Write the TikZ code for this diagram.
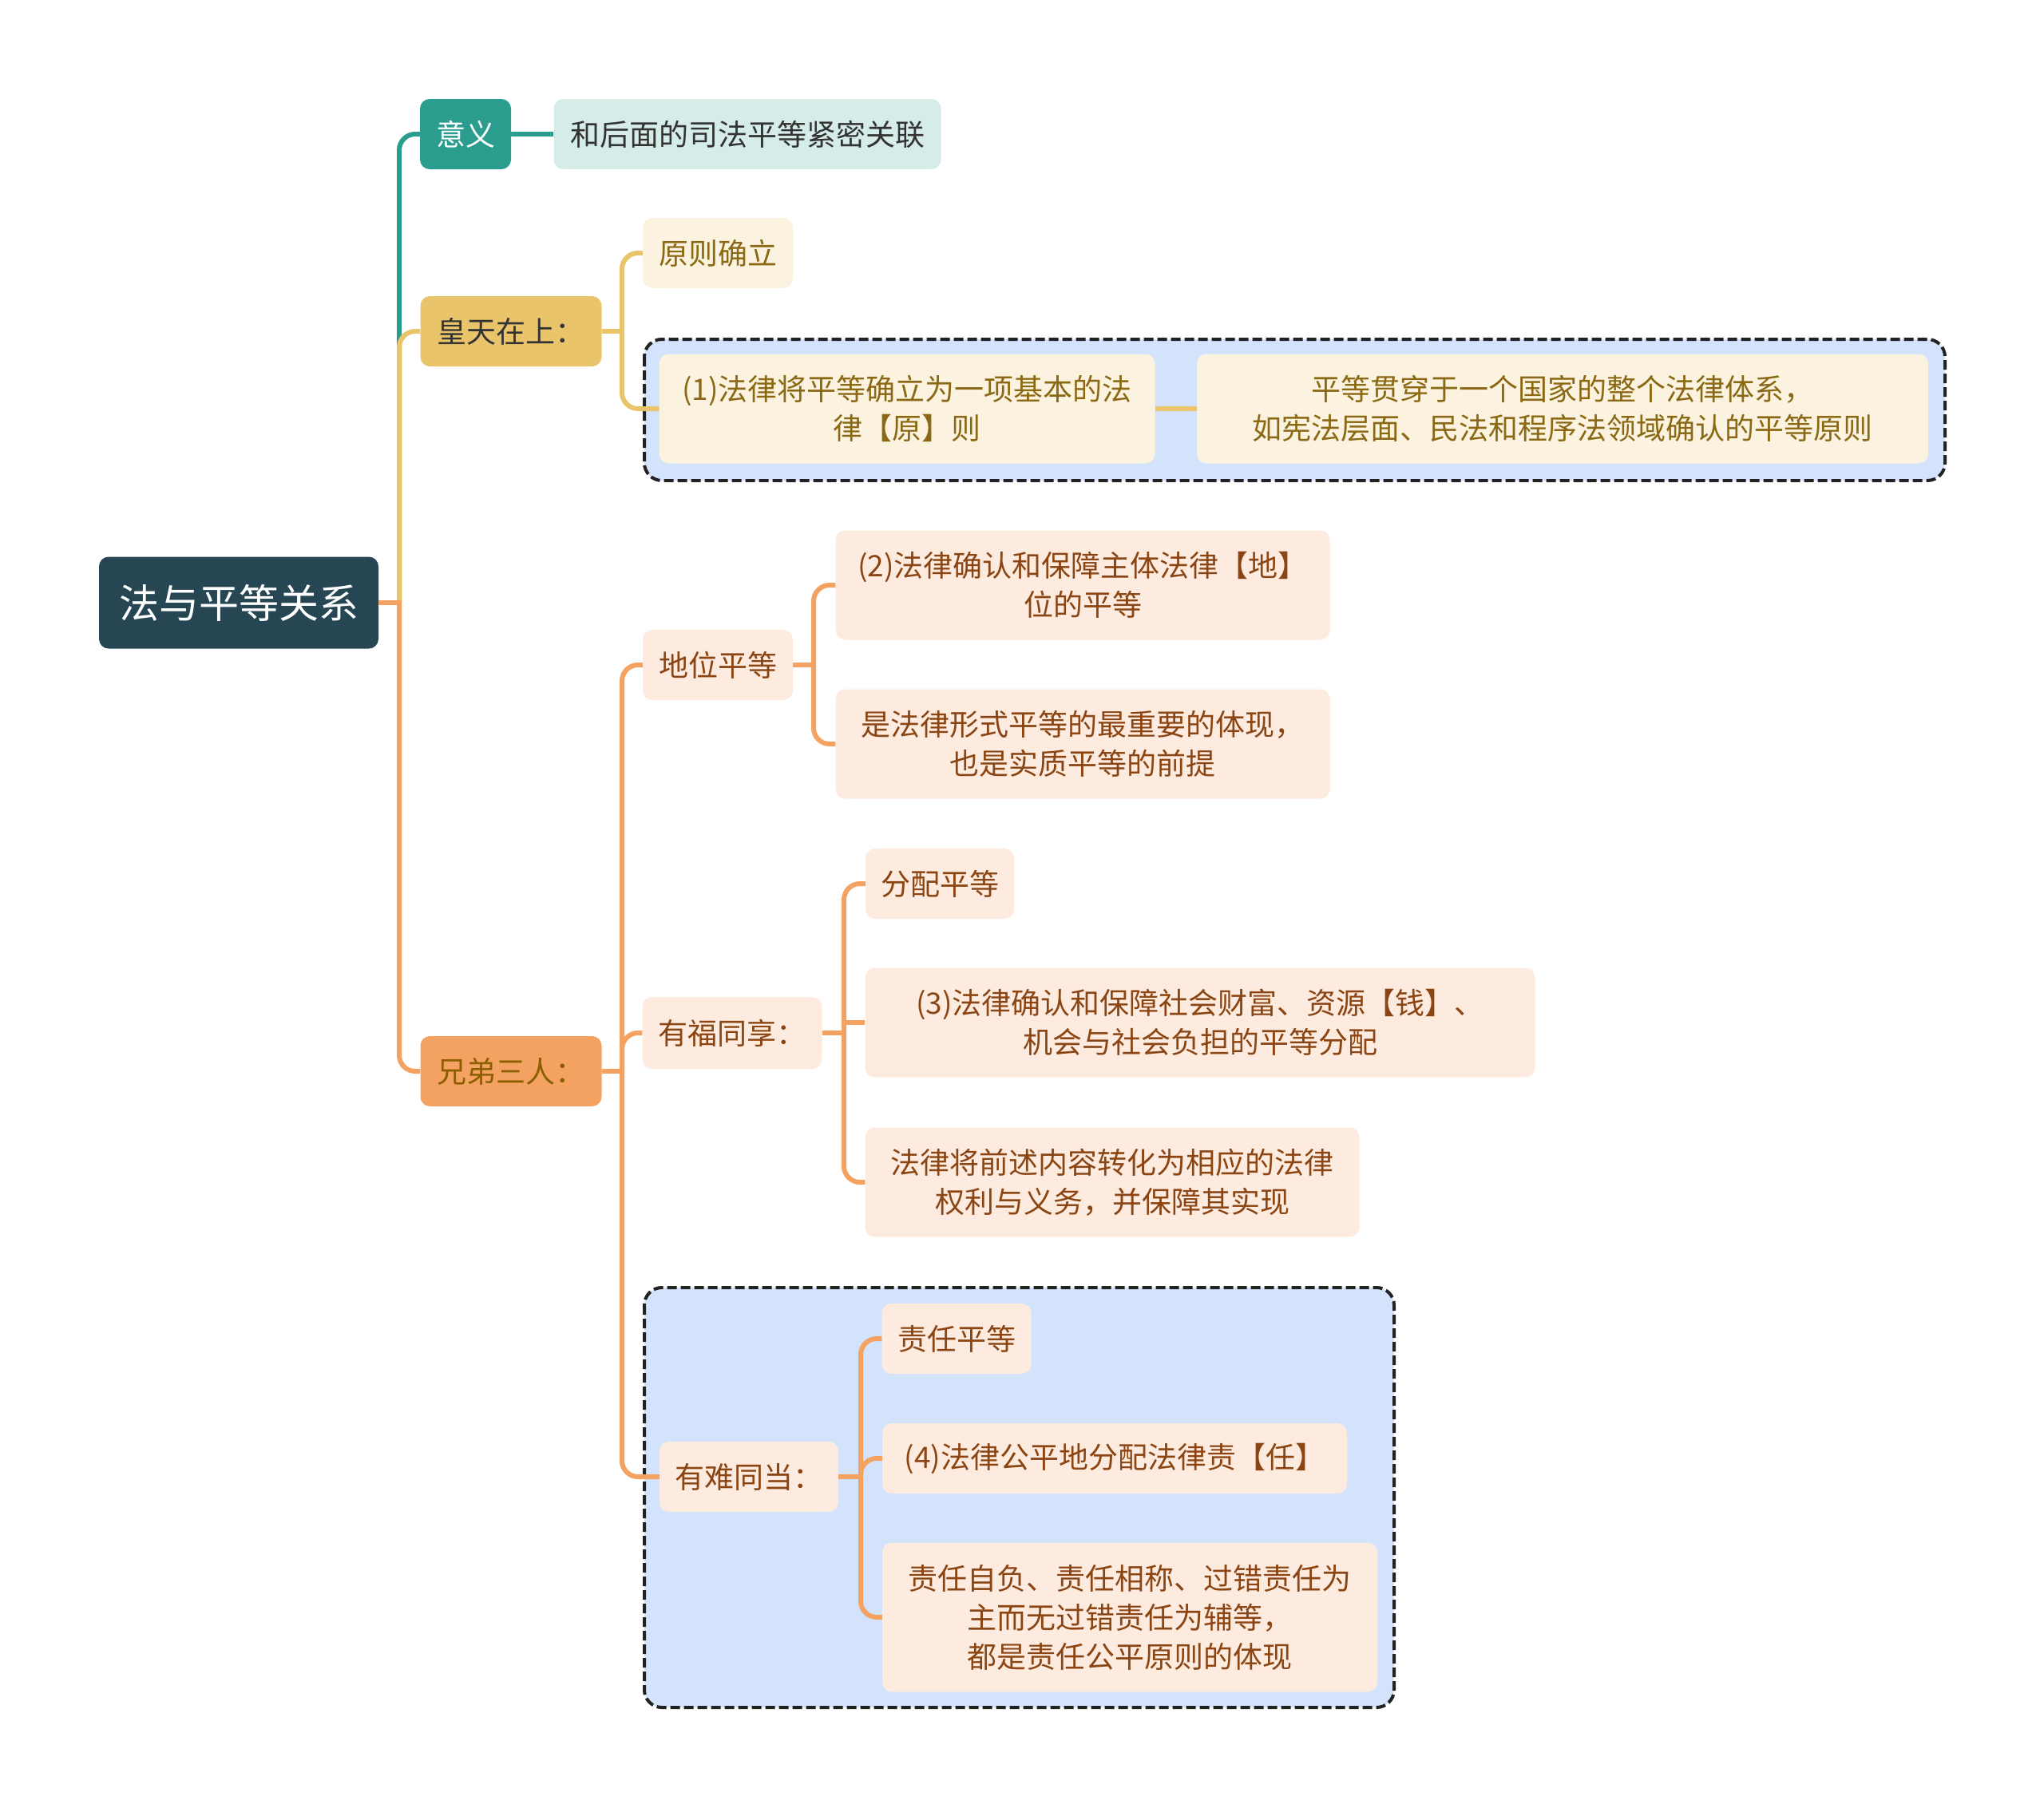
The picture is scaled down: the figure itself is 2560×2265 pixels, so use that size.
\documentclass[tikz,border=0pt]{standalone}
\usepackage{fontspec}
\setmainfont{Noto Sans CJK SC}
\definecolor{rootblue}{HTML}{264653}
\definecolor{tealmain}{HTML}{2A9D8F}
\definecolor{teallight}{HTML}{D5ECE9}
\definecolor{goldmain}{HTML}{E9C46A}
\definecolor{goldlight}{HTML}{FBF3E0}
\definecolor{goldtext}{HTML}{8B6914}
\definecolor{orangemain}{HTML}{F4A261}
\definecolor{orangelight}{HTML}{FDEBE0}
\definecolor{orangetext}{HTML}{8B5E00}
\definecolor{browntext}{HTML}{8B4513}
\definecolor{groupblue}{HTML}{D3E3FC}
\definecolor{groupline}{HTML}{222222}
\definecolor{darktext}{HTML}{333333}

\begin{document}
\begin{tikzpicture}[x=1pt,y=-1pt,
  box/.style={rounded corners=12pt, inner sep=0pt, align=center, font=\fontsize{37}{49}\selectfont},
  sz/.style 2 args={minimum width=#1, minimum height=#2},
  rootnode/.style={box, fill=rootblue, text=white, font=\fontsize{50}{60}\selectfont},
  tealnode/.style={box, fill=tealmain, text=white},
  tealleaf/.style={box, fill=teallight, text=darktext},
  goldnode/.style={box, fill=goldmain, text=darktext},
  goldleaf/.style={box, fill=goldlight, text=goldtext},
  orangenode/.style={box, fill=orangemain, text=orangetext},
  orangeleaf/.style={box, fill=orangelight, text=browntext},
  groupbox/.style={fill=groupblue, draw=groupline, line width=4pt, dash pattern=on 12pt off 5pt, rounded corners=22pt},
  tealline/.style={draw=tealmain, line width=6pt, rounded corners=20pt},
  goldline/.style={draw=goldmain, line width=6pt, rounded corners=20pt},
  orangeline/.style={draw=orangemain, line width=6pt, rounded corners=20pt},
  stub/.style={line cap=rect, sharp corners}]

  \useasboundingbox (0,0) rectangle (2560,2265);

  % Group boxes
  \draw[groupbox] (807,425) rectangle (2436,602);
  \draw[groupbox] (807,1613) rectangle (1746,2139);

  % Root
  \node[rootnode, sz={350}{115}] (root) at (299,755) {法与平等关系};

  % Teal branch
  \node[tealnode, sz={114}{88}] (yiyi) at (583,168) {意义};
  \node[tealleaf, sz={485}{88}] (yiyiD) at (936,168) {和后面的司法平等紧密关联};

  % Gold branch
  \node[goldnode, sz={227}{88}] (huang) at (640,415) {皇天在上：};
  \node[goldleaf, sz={188}{88}] (yuanze) at (899,317) {原则确立};
  \node[goldleaf, sz={621}{137}] (law1) at (1136,512) {(1)法律将平等确立为一项基本的法\\律【原】则};
  \node[goldleaf, sz={916}{137}] (law1D) at (1957,512) {平等贯穿于一个国家的整个法律体系，\\如宪法层面、民法和程序法领域确认的平等原则};

  % Orange branch
  \node[orangenode, sz={227}{88}] (xiongdi) at (640,1342) {兄弟三人：};
  \node[orangeleaf, sz={188}{88}] (diwei) at (899,833) {地位平等};
  \node[orangeleaf, sz={619}{137}] (law2) at (1356,733) {(2)法律确认和保障主体法律【地】\\位的平等};
  \node[orangeleaf, sz={619}{137}] (law2D) at (1356,932) {是法律形式平等的最重要的体现，\\也是实质平等的前提};
  \node[orangeleaf, sz={225}{90}] (youfu) at (917,1294) {有福同享：};
  \node[orangeleaf, sz={186}{88}] (fenpei) at (1177,1107) {分配平等};
  \node[orangeleaf, sz={839}{137}] (law3) at (1503,1281) {(3)法律确认和保障社会财富、资源【钱】、\\机会与社会负担的平等分配};
  \node[orangeleaf, sz={619}{137}] (law3D) at (1393,1481) {法律将前述内容转化为相应的法律\\权利与义务，并保障其实现};
  \node[orangeleaf, sz={224}{88}] (younan) at (938,1850) {有难同当：};
  \node[orangeleaf, sz={187}{88}] (zeren) at (1198,1677) {责任平等};
  \node[orangeleaf, sz={582}{88}] (law4) at (1396,1827) {(4)法律公平地分配法律责【任】};
  \node[orangeleaf, sz={620}{187}] (law4D) at (1415,2026) {责任自负、责任相称、过错责任为\\主而无过错责任为辅等，\\都是责任公平原则的体现};

  % Forks
  \coordinate (rootFork) at (500,755);
  \coordinate (huangFork) at (779,415);
  \coordinate (xiongFork) at (779,1342);
  \coordinate (diweiFork) at (1019,833);
  \coordinate (youfuFork) at (1057,1294);
  \coordinate (younanFork) at (1078,1850);

  % Connectors
  \draw[tealline] (rootFork) |- (yiyi.west);
  \draw[tealline] (yiyi.east) -- (yiyiD.west);
  \draw[goldline] (rootFork) |- (huang.west);
  \draw[goldline] (huangFork) |- (yuanze.west);
  \draw[goldline] (huangFork) |- (law1.west);
  \draw[goldline, stub] ([xshift=3pt]huang.east) -- (huangFork);
  \draw[goldline] (law1.east) -- (law1D.west);
  \draw[orangeline] (rootFork) |- (xiongdi.west);
  \draw[orangeline, stub] ([xshift=3pt]root.east) -- (rootFork);
  \draw[orangeline] (xiongFork) |- (diwei.west);
  \draw[orangeline] (xiongFork) |- (youfu.west);
  \draw[orangeline] (xiongFork) |- (younan.west);
  \draw[orangeline, stub] ([xshift=3pt]xiongdi.east) -- (xiongFork);
  \draw[orangeline] (diweiFork) |- (law2.west);
  \draw[orangeline] (diweiFork) |- (law2D.west);
  \draw[orangeline, stub] ([xshift=3pt]diwei.east) -- (diweiFork);
  \draw[orangeline] (youfuFork) |- (fenpei.west);
  \draw[orangeline, sharp corners] (youfuFork) |- (law3.west);
  \draw[orangeline] (youfuFork) |- (law3D.west);
  \draw[orangeline, stub] ([xshift=3pt]youfu.east) -- (youfuFork);
  \draw[orangeline] (younanFork) |- (zeren.west);
  \draw[orangeline] (younanFork) |- (law4.west);
  \draw[orangeline] (younanFork) |- (law4D.west);
  \draw[orangeline, stub] ([xshift=3pt]younan.east) -- (younanFork);

\end{tikzpicture}
\end{document}
